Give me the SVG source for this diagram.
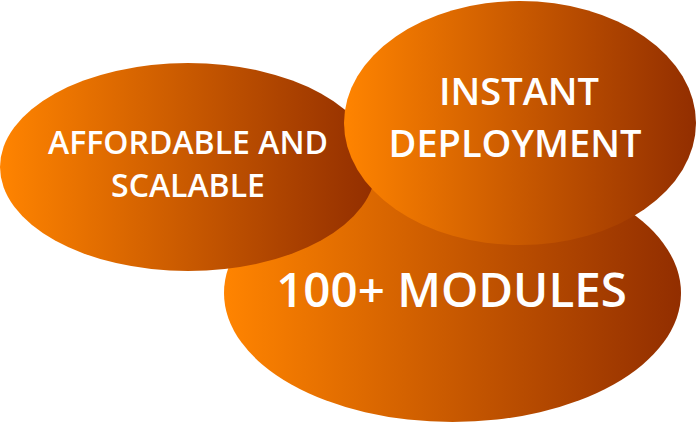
<svg xmlns="http://www.w3.org/2000/svg" width="697" height="423" viewBox="0 0 697 423">
<defs>
<linearGradient id="g" x1="0" y1="0" x2="1" y2="0">
<stop offset="0" stop-color="#FF8400"/>
<stop offset="1" stop-color="#922E00"/>
</linearGradient>
<style>
.e{fill:url(#g);}
.t{font-family:"Open Sans","DejaVu Sans",sans-serif;font-weight:600;fill:#FFFFFF;text-anchor:middle;}
</style>
</defs>
<rect width="697" height="423" fill="#FFFFFF"/>
<g id="connectors"></g>
<g id="node-modules">
<ellipse class="e" cx="452.5" cy="293" rx="228.5" ry="129"/>
<text class="t" x="451.5" y="307" font-size="47.5">100+ MODULES</text>
</g>
<g id="node-affordable">
<ellipse class="e" cx="188" cy="167" rx="188" ry="104"/>
<text class="t" x="188" y="154" font-size="32">AFFORDABLE AND</text>
<text class="t" x="188" y="197" font-size="32">SCALABLE</text>
</g>
<g id="node-instant">
<ellipse class="e" cx="520" cy="123" rx="176" ry="122"/>
<text class="t" x="519" y="105" font-size="38">INSTANT</text>
<text class="t" x="515" y="157" font-size="38">DEPLOYMENT</text>
</g>
</svg>
